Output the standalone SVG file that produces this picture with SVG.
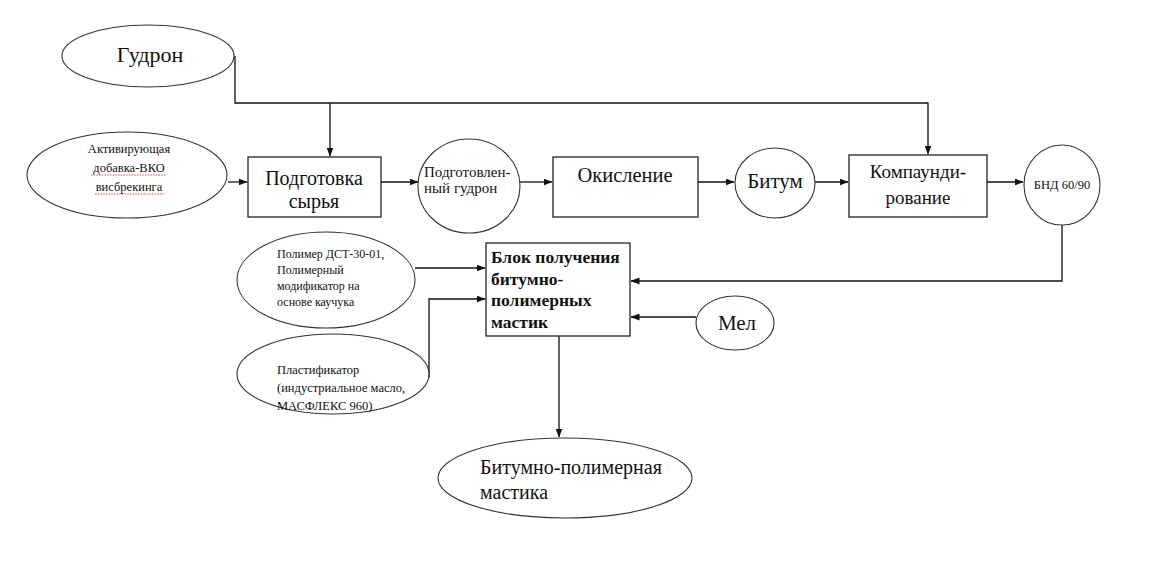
<svg xmlns="http://www.w3.org/2000/svg" width="1160" height="574" viewBox="0 0 1160 574" font-family="'Liberation Serif', 'Times New Roman', 'DejaVu Serif', serif">
<style>
.n{fill:#fff;stroke:#222;stroke-width:1.3}
.e{fill:#fff;stroke:#333;stroke-width:1.1}
.c{fill:none;stroke:#111;stroke-width:1.3}
text{font-family:'Liberation Serif','Times New Roman',serif;fill:#111}
.m{text-anchor:middle}
.sp{fill:none;stroke:#d33;stroke-width:0.9;stroke-dasharray:1.5 1.2}
</style>
<defs>
<marker id="a" markerWidth="9" markerHeight="7" refX="8.5" refY="3.5" orient="auto" markerUnits="userSpaceOnUse">
<path d="M0,0 L9,3.5 L0,7 z" fill="#111"/>
</marker>
</defs>
<rect width="1160" height="574" fill="#fff"/>
<g id="connectors">
<path class="c" d="M235,56 V103 H928 V154" marker-end="url(#a)"/>
<path class="c" d="M330,103 V156" marker-end="url(#a)"/>
<path class="c" d="M228,182 H247" marker-end="url(#a)"/>
<path class="c" d="M381,182 H418" marker-end="url(#a)"/>
<path class="c" d="M520,182 H552" marker-end="url(#a)"/>
<path class="c" d="M698,182 H734" marker-end="url(#a)"/>
<path class="c" d="M815,182 H848" marker-end="url(#a)"/>
<path class="c" d="M987,182 H1023" marker-end="url(#a)"/>
<path class="c" d="M1062,225 V281 H631" marker-end="url(#a)" stroke="#555"/>
<path class="c" d="M415,268 H485" marker-end="url(#a)"/>
<path class="c" d="M429,378 V299 H485" marker-end="url(#a)"/>
<path class="c" d="M696,317 H631" marker-end="url(#a)"/>
<path class="c" d="M559,336 V437" marker-end="url(#a)"/>
</g>
<g id="gudron">
<ellipse class="e" cx="148" cy="56" rx="86" ry="31"/>
<text class="m" x="150" y="62" font-size="22">Гудрон</text>
</g>
<g id="aktiv">
<ellipse class="e" cx="127" cy="175" rx="100" ry="43"/>
<text class="m" x="129" y="153" font-size="12.5">Активирующая</text>
<text class="m" x="129" y="172" font-size="12.5">добавка-ВКО</text>
<text class="m" x="129" y="191" font-size="12.5">висбрекинга</text>
<path class="sp" d="M91,175 H166 M95,194 H164"/>
</g>
<g id="podgotovka">
<rect class="n" x="248" y="157" width="133" height="60"/>
<text class="m" x="314" y="185" font-size="20">Подготовка</text>
<text class="m" x="314" y="208" font-size="20">сырья</text>
</g>
<g id="podgudron">
<ellipse class="e" cx="469" cy="186" rx="51" ry="47"/>
<text x="424" y="177" font-size="15">Подготовлен-</text>
<text x="424" y="193" font-size="15">ный гудрон</text>
</g>
<g id="okislenie">
<rect class="n" x="553" y="157" width="145" height="60"/>
<text class="m" x="625" y="182" font-size="20.5">Окисление</text>
</g>
<g id="bitum">
<ellipse class="e" cx="775" cy="183" rx="40" ry="35"/>
<text class="m" x="775" y="188" font-size="21">Битум</text>
</g>
<g id="kompaund">
<rect class="n" x="849" y="155" width="138" height="62"/>
<text class="m" x="918" y="178" font-size="19">Компаунди-</text>
<text class="m" x="918" y="204" font-size="19">рование</text>
</g>
<g id="bnd">
<ellipse class="e" cx="1062" cy="185" rx="38" ry="40"/>
<text class="m" x="1062" y="189" font-size="12.5">БНД 60/90</text>
</g>
<g id="polimer">
<ellipse class="e" cx="326" cy="280" rx="89" ry="48"/>
<text x="277" y="258" font-size="12">Полимер ДСТ-30-01,</text>
<text x="277" y="274" font-size="12">Полимерный</text>
<text x="277" y="290" font-size="12">модификатор на</text>
<text x="277" y="306" font-size="12">основе каучука</text>
</g>
<g id="plastif">
<ellipse class="e" cx="333" cy="374" rx="96" ry="40"/>
<text x="277" y="374" font-size="12.5">Пластификатор</text>
<text x="277" y="392" font-size="12.5">(индустриальное масло,</text>
<text x="277" y="410" font-size="12.5">МАСФЛЕКС 960)</text>
</g>
<g id="blok">
<rect class="n" x="486" y="243" width="144" height="93"/>
<text x="491" y="263" font-size="17.5" font-weight="bold">Блок получения</text>
<text x="491" y="285" font-size="17.5" font-weight="bold">битумно-</text>
<text x="491" y="306" font-size="17.5" font-weight="bold">полимерных</text>
<text x="491" y="328" font-size="17.5" font-weight="bold">мастик</text>
</g>
<g id="mel">
<ellipse class="e" cx="735" cy="323" rx="39" ry="27"/>
<text class="m" x="737" y="330" font-size="21">Мел</text>
</g>
<g id="mastika">
<ellipse class="e" cx="565" cy="478" rx="127" ry="40"/>
<text x="480" y="474" font-size="20">Битумно-полимерная</text>
<text x="480" y="499" font-size="20">мастика</text>
</g>
</svg>
